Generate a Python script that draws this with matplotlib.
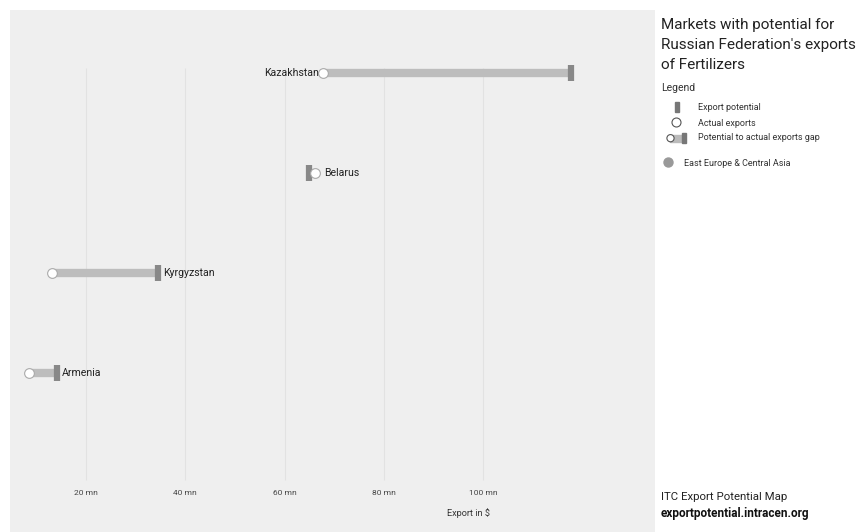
import matplotlib
matplotlib.use("Agg")
import matplotlib.pyplot as plt
from matplotlib.patches import Rectangle, Circle

plt.rcParams['font.family'] = ['Roboto', 'DejaVu Sans']

countries = ["Kazakhstan", "Belarus", "Kyrgyzstan", "Armenia"]
actual = [67.7, 66.1, 13.1, 8.5]
potential = [117.7, 64.9, 34.5, 14.1]
label_side = ["left", "right", "right", "right"]
ticks = [20, 40, 60, 80, 100]
tick_labels = ["20 mn", "40 mn", "60 mn", "80 mn", "100 mn"]

W, H = 860, 532
fig = plt.figure(figsize=(W/100, H/100), dpi=100)
fig.patch.set_facecolor("white")

# main axes over gray panel (pixels x 10..655, y 10..532)
ax = fig.add_axes([10/W, 0, 645/W, 522/H])
ax.set_facecolor("#efefef")
ax.set_xlim(4.64, 134.7)
ax.set_ylim(4.59, -0.63)
for s in ax.spines.values():
    s.set_visible(False)
ax.set_xticks([]); ax.set_yticks([])

ax.vlines(ticks, -0.05, 4.07, color="#e2e2e2", lw=0.8, zorder=1)
for t, lab in zip(ticks, tick_labels):
    ax.text(t, 4.2, lab, ha="center", va="center", fontsize=6, color="#444444")
ax.text(97, 4.4, "Export in $", ha="center", va="center", fontsize=6.6, color="#333333")

for i, (c, a, p, side) in enumerate(zip(countries, actual, potential, label_side)):
    lo, hi = min(a, p), max(a, p)
    ax.plot([lo, hi], [i, i], color="#bdbdbd", lw=6, solid_capstyle="butt", zorder=2)
    ax.plot([p], [i], marker="|", color="#888888", ms=11, mew=4.5, zorder=3)
    ax.plot([a], [i], marker="o", mfc="white", mec="#aaaaaa", ms=7, mew=0.8, zorder=4)
    if side == "left":
        ax.annotate(c, (lo, i), xytext=(-4, 0), textcoords="offset pixels",
                    ha="right", va="center", fontsize=7.6, color="#222222", zorder=5)
    else:
        off = 9 if hi == a else 5
        ax.annotate(c, (hi, i), xytext=(off, 0), textcoords="offset pixels",
                    ha="left", va="center", fontsize=7.6, color="#222222", zorder=5)

# right panel
def fx(px): return px / W
def fy(py): return 1 - py / H

for k, line in enumerate(["Markets with potential for",
                          "Russian Federation's exports",
                          "of Fertilizers"]):
    fig.text(fx(661), fy(25 + 20 * k), line, fontsize=11.0, color="#222222", va="center", ha="left")
fig.text(fx(661), fy(88), "Legend", fontsize=7.5, color="#333333", va="center")

# legend icons via a helper axes in pixel space
lax = fig.add_axes([0, 0, 1, 1], facecolor="none")
lax.set_xlim(0, W); lax.set_ylim(H, 0); lax.axis("off")
lax.add_patch(Rectangle((674.5, 102), 4, 10, color="#777777"))
fig.text(fx(698), fy(107), "Export potential", fontsize=6.5, color="#333333", va="center")
lax.add_patch(Circle((676.5, 122.5), 4.5, facecolor="white", edgecolor="#555555", lw=0.8))
fig.text(fx(698), fy(123), "Actual exports", fontsize=6.5, color="#333333", va="center")
lax.add_patch(Rectangle((670, 135), 13, 6.5, color="#bbbbbb"))
lax.add_patch(Rectangle((682, 133), 4, 10, color="#777777"))
lax.add_patch(Circle((670.5, 138.2), 3.6, facecolor="white", edgecolor="#555555", lw=0.8))
fig.text(fx(698), fy(138), "Potential to actual exports gap", fontsize=6.5, color="#333333", va="center")
lax.add_patch(Circle((668.5, 162.5), 4.5, color="#999999"))
fig.text(fx(684), fy(163), "East Europe & Central Asia", fontsize=6.5, color="#333333", va="center")

fig.text(fx(661), fy(497), "ITC Export Potential Map", fontsize=8.2, color="#222222", va="center")
fig.text(fx(661), fy(513), "exportpotential.intracen.org", fontsize=8.5, color="#111111",
         va="center", fontweight="bold")

fig.savefig("out.png", dpi=100, facecolor="white")
